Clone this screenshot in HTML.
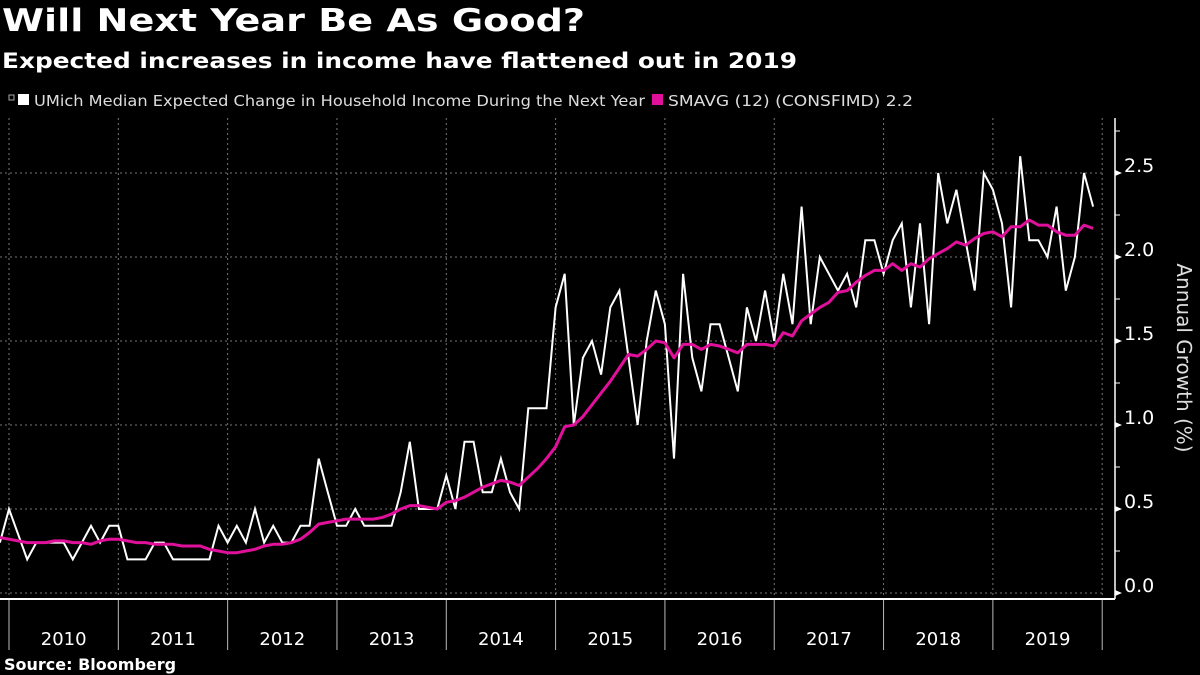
<!DOCTYPE html>
<html><head><meta charset="utf-8"><style>
html,body{margin:0;padding:0;background:#000;}
svg{display:block;font-family:"DejaVu Sans","Liberation Sans",sans-serif;}
</style></head><body>
<svg id="chart" width="1200" height="675" viewBox="0 0 1200 675">
<rect width="1200" height="675" fill="#000"/>
<text x="2" y="31" fill="#fff" font-weight="bold" font-size="31" textLength="583" lengthAdjust="spacingAndGlyphs">Will Next Year Be As Good?</text>
<text x="2" y="68" fill="#fff" font-weight="bold" font-size="21" textLength="795" lengthAdjust="spacingAndGlyphs">Expected increases in income have flattened out in 2019</text>
<g>
<g>
<rect x="9" y="95" width="5" height="5" fill="none" stroke="#aaa" stroke-width="1"/>
<rect x="18" y="94" width="11" height="11" fill="#fff"/>
<text x="34" y="106" fill="#ddd" font-size="15" textLength="611" lengthAdjust="spacingAndGlyphs">UMich Median Expected Change in Household Income During the Next Year</text>
</g>
<g>
<rect x="652" y="94" width="11" height="11" fill="#e0109b"/>
<text x="668" y="106" fill="#ddd" font-size="15" textLength="245" lengthAdjust="spacingAndGlyphs">SMAVG (12) (CONSFIMD) 2.2</text>
</g>
</g>
<g id="grid"></g>
<g id="axes"></g>
<g id="series"></g>
<text transform="translate(1177,358) rotate(90)" text-anchor="middle" fill="#ddd" font-size="20">Annual Growth (%)</text>
<text x="4" y="670" fill="#fff" font-weight="bold" font-size="16">Source: Bloomberg</text>
</svg>
<script>
// Monthly, Dec 2009 .. Dec 2019
const years = ['2010','2011','2012','2013','2014','2015','2016','2017','2018','2019'];
const yTicks = [0.0, 0.5, 1.0, 1.5, 2.0, 2.5];
const umich = [0.3,
0.5,0.35,0.2,0.3,0.3,0.3,0.3,0.2,0.3,0.4,0.3,0.4,
0.4,0.2,0.2,0.2,0.3,0.3,0.2,0.2,0.2,0.2,0.2,0.4,
0.3,0.4,0.3,0.5,0.3,0.4,0.3,0.3,0.4,0.4,0.8,0.6,
0.4,0.4,0.5,0.4,0.4,0.4,0.4,0.6,0.9,0.5,0.5,0.5,
0.7,0.5,0.9,0.9,0.6,0.6,0.8,0.6,0.5,1.1,1.1,1.1,
1.7,1.9,1.0,1.4,1.5,1.3,1.7,1.8,1.4,1.0,1.5,1.8,
1.6,0.8,1.9,1.4,1.2,1.6,1.6,1.4,1.2,1.7,1.5,1.8,
1.5,1.9,1.6,2.3,1.6,2.0,1.9,1.8,1.9,1.7,2.1,2.1,
1.9,2.1,2.2,1.7,2.2,1.6,2.5,2.2,2.4,2.1,1.8,2.5,
2.4,2.2,1.7,2.6,2.1,2.1,2.0,2.3,1.8,2.0,2.5,2.3];
const smavg = [0.33,
0.32,0.31,0.30,0.30,0.30,0.31,0.31,0.30,0.30,0.29,0.31,0.32,
0.32,0.31,0.30,0.30,0.29,0.29,0.29,0.28,0.28,0.28,0.26,0.25,
0.24,0.24,0.25,0.26,0.28,0.29,0.29,0.30,0.32,0.36,0.41,0.42,
0.43,0.44,0.44,0.44,0.44,0.45,0.47,0.50,0.52,0.52,0.51,0.50,
0.54,0.55,0.57,0.60,0.63,0.65,0.67,0.66,0.64,0.69,0.74,0.80,
0.87,0.99,1.00,1.05,1.12,1.19,1.26,1.34,1.42,1.41,1.45,1.50,
1.49,1.40,1.48,1.48,1.45,1.48,1.47,1.45,1.43,1.48,1.48,1.48,
1.47,1.55,1.53,1.62,1.66,1.70,1.73,1.79,1.80,1.85,1.89,1.92,
1.92,1.96,1.92,1.96,1.94,1.99,2.02,2.05,2.09,2.07,2.11,2.14,
2.15,2.12,2.18,2.18,2.22,2.19,2.19,2.15,2.13,2.13,2.19,2.17];

const NS='http://www.w3.org/2000/svg';
const X0=9, MW=9.11, PT=118, PB=599, AX=1115, PR=1102;
function xm(i){return X0+(i-1)*MW;} // i=0 is Dec 2009
function yv(v){return 593-v*168;}
function mk(tag,attrs,parent){const e=document.createElementNS(NS,tag);for(const k in attrs)e.setAttribute(k,attrs[k]);parent.appendChild(e);return e;}
const grid=document.getElementById('grid'), axes=document.getElementById('axes'), series=document.getElementById('series');

yTicks.forEach(function(t){
  const l=mk('line',{x1:0,x2:PR,y1:yv(t),y2:yv(t),stroke:'#777','stroke-width':1,'stroke-dasharray':'2,3'},grid);
  
  
  const tk=mk('path',{d:'M'+AX+' '+(yv(t)-3)+' L'+(AX+7)+' '+yv(t)+' L'+AX+' '+(yv(t)+3)+'Z',fill:'#fff'},axes);
  
  
  const tx=mk('text',{x:AX+9,y:yv(t)-1,fill:'#fff','font-size':19},axes);
  tx.textContent=t.toFixed(1);
  
  
});
for(let v=0.25; v<2.8; v+=0.5){
  const m=mk('line',{x1:AX,x2:AX+5,y1:yv(v),y2:yv(v),stroke:'#fff','stroke-width':1},axes);
  
  
}
for(let k=0;k<=years.length;k++){
  const x=X0+k*12*MW;
  const g=mk('line',{x1:x,x2:x,y1:PT,y2:PB,stroke:'#777','stroke-width':1,'stroke-dasharray':'2,3'},grid);
  
  
  const t=mk('line',{x1:x,x2:x,y1:PB,y2:650,stroke:'#bbb','stroke-width':1},axes);
  
  
  if(k<years.length){
    const tx=mk('text',{x:x+6*MW,y:645,fill:'#fff','font-size':18,'text-anchor':'middle'},axes);
    tx.textContent=years[k];
    
    
  }
}
const xa=mk('line',{x1:0,x2:AX,y1:PB,y2:PB,stroke:'#fff','stroke-width':2},axes);


const ya=mk('line',{x1:AX,x2:AX,y1:PT,y2:PB,stroke:'#fff','stroke-width':1.5},axes);



function pts(arr){return arr.map(function(v,i){return xm(i).toFixed(1)+','+yv(v).toFixed(1);}).join(' ');}
const w=mk('polyline',{points:pts(umich),fill:'none',stroke:'#fff','stroke-width':2,'stroke-linejoin':'miter'},series);


const m=mk('polyline',{points:pts(smavg),fill:'none',stroke:'#e0109b','stroke-width':3,'stroke-linejoin':'round'},series);


</script>
</body></html>
